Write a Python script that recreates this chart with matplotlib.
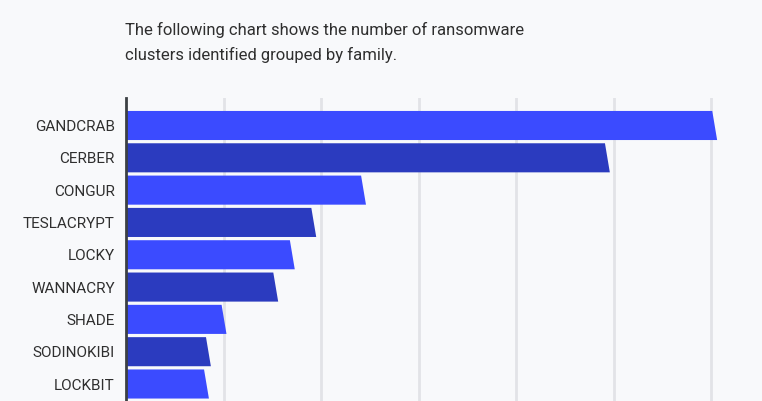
import matplotlib.pyplot as plt
from matplotlib.patches import Polygon

# Data (arbitrary units: one grid step = 100)
families = ["GANDCRAB", "CERBER", "CONGUR", "TESLACRYPT", "LOCKY",
            "WANNACRY", "SHADE", "SODINOKIBI", "LOCKBIT"]
clusters = [606, 496, 246, 195, 173, 156, 103, 87, 85]
colors = ["#3b4bff", "#2b3bbf"]
title_lines = ["The following chart shows the number of ransomware",
               "clusters identified grouped by family."]

plt.rcParams['font.family'] = ['Roboto', 'DejaVu Sans']

fig = plt.figure(figsize=(7.62, 4.01), dpi=100, facecolor="#f8f9fb")
ax = fig.add_axes([126 / 762, 0, 636 / 762, 303 / 401], facecolor="#f8f9fb")

# Bars with a slanted right edge
h = 0.9
slant = 5.0
for i, v in enumerate(clusters):
    pts = [(0, i - h / 2), (v - slant, i - h / 2), (v, i + h / 2), (0, i + h / 2)]
    ax.add_patch(Polygon(pts, closed=True, facecolor=colors[i % 2],
                         edgecolor="none", zorder=3))

ax.set_xlim(0, 652)
ax.set_ylim(8.526, -0.851)
ax.set_xticks(range(100, 700, 100))
ax.xaxis.grid(True, color="#e2e3e7", linewidth=2)
ax.set_axisbelow(True)
ax.tick_params(axis="x", length=0, labelbottom=False)

ax.set_yticks(range(len(families)))
ax.set_yticklabels(families, fontsize=11, color="#2f2f2f")
ax.tick_params(axis="y", length=0, pad=8)

for s in ["top", "right", "bottom"]:
    ax.spines[s].set_visible(False)
ax.spines["left"].set_color("#3c4043")
ax.spines["left"].set_linewidth(2)
ax.spines["left"].set_zorder(4)

for k, line in enumerate(title_lines):
    fig.text(125 / 762, 1 - (30 + 25 * k) / 401, line,
             fontsize=12, color="#2f2f2f", va="center", ha="left")

fig.savefig("out.png", dpi=100, facecolor=fig.get_facecolor())
